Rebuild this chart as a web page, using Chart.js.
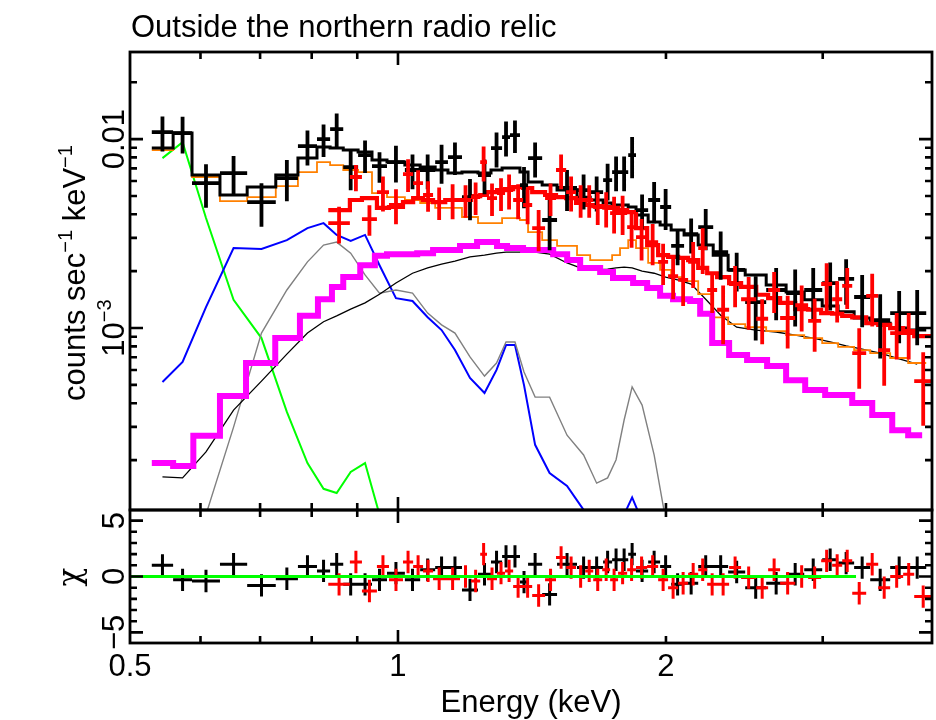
<!DOCTYPE html>
<html>
<head>
<meta charset="utf-8">
<title>Outside the northern radio relic</title>
<script src="https://cdn.jsdelivr.net/npm/chart.js@4.4.1/dist/chart.umd.min.js"></script>
<style>
  html, body { margin: 0; padding: 0; background: #fff; }
  #wrap { position: relative; width: 936px; height: 720px; }
  #wrap canvas { position: absolute; left: 0; top: 0; }
</style>
</head>
<body>
<div id="wrap">
  <canvas id="spec" width="936" height="720"></canvas>
  <canvas id="resid" width="936" height="720"></canvas>
</div>
<script>
// energy bins (keV) and count rates (counts/s/keV)

// black data set
const blackBinEdges = [0.529, 0.559, 0.587, 0.631, 0.677, 0.729, 0.772, 0.811, 0.839, 0.868,
  0.902, 0.935, 0.972, 1.018, 1.059, 1.101, 1.138, 1.180, 1.230, 1.272,
  1.309, 1.336, 1.371, 1.400, 1.452, 1.509, 1.589, 1.644, 1.700, 1.740,
  1.776, 1.814, 1.851, 1.910, 1.970, 2.027, 2.096, 2.174, 2.260, 2.349,
  2.455, 2.592, 2.729, 2.860, 2.996, 3.122, 3.254, 3.392, 3.572, 3.742, 3.921];
const blackRate = [0.01089, 0.01076, 0.00585, 0.00661, 0.00464, 0.00622, 0.00918, 0.0100, 0.01130, 0.00711,
  0.00823, 0.00720, 0.00756, 0.00686, 0.00686, 0.00756, 0.00803, 0.00493, 0.00645, 0.00896,
  0.01025, 0.0105, 0.00571, 0.00793, 0.00373, 0.00551, 0.00537, 0.00524, 0.00607, 0.00669,
  0.00669, 0.00823, 0.00421, 0.00476, 0.00437, 0.00272, 0.00314, 0.00342, 0.00252, 0.00203,
  0.00137, 0.00159, 0.00153, 0.00159, 0.00173, 0.00182, 0.00146, 0.00110, 0.00120, 0.00120];
const blackRateErr = [0.00229, 0.00238, 0.00152, 0.00154, 0.00120, 0.00153, 0.00193, 0.00196, 0.00237, 0.00175,
  0.00161, 0.00132, 0.00167, 0.00144, 0.00144, 0.00176, 0.00157, 0.00121, 0.00135, 0.00188,
  0.00215, 0.00206, 0.00140, 0.00167, 0.00115, 0.00135, 0.00113, 0.00110, 0.00134, 0.00140,
  0.00140, 0.00202, 0.00088, 0.00117, 0.00107, 0.00057, 0.00066, 0.00084, 0.00072, 0.00047,
  0.00051, 0.00049, 0.00051, 0.00049, 0.00049, 0.00049, 0.00045, 0.00041, 0.00037, 0.00039];
const blackModel = [0.00896, 0.01076, 0.00645, 0.00506, 0.00557, 0.00645, 0.00793, 0.00907, 0.00896, 0.00875,
  0.00854, 0.00774, 0.00756, 0.00729, 0.00711, 0.00686, 0.00661, 0.00669, 0.00661, 0.00686,
  0.00702, 0.00702, 0.00669, 0.00592, 0.00571, 0.00537, 0.00493, 0.00476, 0.00459, 0.00448,
  0.00448, 0.00437, 0.00396, 0.00364, 0.00351, 0.00330, 0.00311, 0.00275, 0.00243, 0.00203,
  0.00191, 0.00169, 0.00155, 0.00141, 0.00131, 0.00122, 0.00113, 0.00106, 0.00100, 0.000976];
const blackChi = [1.0, -0.3, -0.4, 1.1, -0.8, -0.2, 0.9, 0.5, 1.1, -0.7,
  -0.7, -0.3, 0.3, -0.3, 0.6, 0.8, 0.8, -1.2, 0.2, 1.3,
  1.8, 1.8, -0.5, 1.1, -1.6, 1.1, 0.8, 0.8, 1.3, 1.5,
  1.5, 2.0, 0.5, 1.3, 0.9, -0.7, -0.6, 0.9, 0.9, 0.4,
  -1.0, -0.6, 0.2, 0.6, 1.5, 1.2, 0.8, -0.3, 0.8, 0.8];

// model components on the black bins
const orangeComp = [0.00875, 0.01076, 0.00630, 0.00470, 0.00493, 0.00564, 0.00669, 0.00756, 0.00729, 0.00686,
  0.00669, 0.00518, 0.00493, 0.00476, 0.00459, 0.00432, 0.00432, 0.00387, 0.00359, 0.00359,
  0.00382, 0.00382, 0.00373, 0.00322, 0.00292, 0.00272, 0.00243, 0.00229, 0.00229, 0.00243,
  0.00265, 0.00292, 0.00265, 0.00221, 0.00203, 0.00186, 0.00177, 0.00151, 0.00114, 0.00105,
  0.00101, 0.000964, 0.000918, 0.000885, 0.000833, 0.000794, 0.000765, 0.000737, 0.000694, 0.000653];
const thinBlackComp = [0.000163, 0.000161, 0.000221, 0.000368, 0.000524, 0.000728, 0.000941, 0.00108, 0.00116, 0.00126,
  0.00136, 0.00151, 0.00173, 0.00195, 0.00208, 0.00218, 0.00226, 0.00238, 0.00243, 0.00249,
  0.00252, 0.00252, 0.00252, 0.00252, 0.00246, 0.00221, 0.00205, 0.00203, 0.00205, 0.00208,
  0.00210, 0.00208, 0.00200, 0.00195, 0.00186, 0.00180, 0.00171, 0.00142, 0.00117, 0.00101,
  0.000976, 0.000953, 0.000918, 0.000885, 0.000844, 0.000804, 0.000774, 0.000737, 0.000686, 0.000645];
const grayComp = [0.00003, 0.00006, 0.000103, 0.000299, 0.000941, 0.00159, 0.00224, 0.00275, 0.00285, 0.00249,
  0.00191, 0.00153, 0.00159, 0.00153, 0.00120, 0.00104, 0.000941, 0.000703, 0.000557, 0.000653,
  0.000844, 0.000844, 0.000585, 0.000431, 0.000431, 0.000271, 0.000213, 0.000151, 0.000161, 0.000201,
  0.000326, 0.000488, 0.000391, 0.000213, 0.000097, 0.000047];
const blueComp = [0.000518, 0.000661, 0.00129, 0.00265, 0.00262, 0.00292, 0.00338, 0.00359, 0.00311, 0.00289,
  0.00311, 0.00215, 0.00144, 0.00139, 0.00114, 0.000976, 0.000765, 0.000544, 0.000453, 0.000600,
  0.000813, 0.000813, 0.000499, 0.000241, 0.000171, 0.000146, 0.000109, 0.00009, 0.00008, 0.000095,
  0.000103, 0.000127, 0.000095, 0.00006];
const greenComp = [0.00793, 0.00964, 0.00382, 0.00141, 0.000885, 0.000360, 0.000193, 0.000141, 0.000134, 0.000173,
  0.000193, 0.000103, 0.00004];

// magenta component (own binning)
const magentaBinEdges = [0.529, 0.559, 0.589, 0.631, 0.675, 0.728, 0.776, 0.813, 0.843, 0.868,
  0.907, 0.942, 0.972, 1.051, 1.095, 1.174, 1.227, 1.292, 1.326, 1.382,
  1.494, 1.549, 1.602, 1.687, 1.744, 1.837, 1.905, 1.970, 2.037, 2.129,
  2.185, 2.254, 2.355, 2.467, 2.598, 2.729, 2.867, 3.019, 3.238, 3.410,
  3.591, 3.742, 3.880];
const magentaComp = [0.000193, 0.000186, 0.000269, 0.000437, 0.000653, 0.000885, 0.00116, 0.00142, 0.00165, 0.00186,
  0.00215, 0.00241, 0.00246, 0.00249, 0.00259, 0.00272, 0.00285, 0.00272, 0.00265, 0.00259,
  0.00246, 0.00229, 0.00208, 0.00198, 0.00184, 0.00173, 0.00163, 0.00148, 0.00142, 0.00139,
  0.00119, 0.000833, 0.000719, 0.000678, 0.000630, 0.000530, 0.000470, 0.000442, 0.000401, 0.000347,
  0.000288, 0.000271];

// red data set
const redBinEdges = [0.835, 0.883, 0.911, 0.947, 0.977, 1.013, 1.040, 1.067, 1.095, 1.130,
  1.174, 1.208, 1.237, 1.259, 1.292, 1.319, 1.347, 1.382, 1.415, 1.463,
  1.505, 1.545, 1.585, 1.623, 1.657, 1.696, 1.731, 1.767, 1.809, 1.851,
  1.905, 1.960, 2.011, 2.064, 2.118, 2.174, 2.225, 2.283, 2.355, 2.429,
  2.526, 2.605, 2.687, 2.794, 2.889, 2.988, 3.074, 3.155, 3.238, 3.357,
  3.463, 3.572, 3.694, 3.801, 3.982];
const redRate = [0.00359, 0.00630, 0.00377, 0.00524, 0.00448, 0.00653, 0.00585, 0.00506, 0.00464, 0.00476,
  0.00476, 0.00493, 0.00756, 0.00487, 0.00518, 0.00537, 0.00476, 0.00448, 0.00338, 0.00487,
  0.00686, 0.00524, 0.00476, 0.00476, 0.00437, 0.00432, 0.00406, 0.00406, 0.00342, 0.00303,
  0.00285, 0.00224, 0.00188, 0.00180, 0.00224, 0.00265, 0.00159, 0.00125, 0.00171, 0.00142,
  0.00112, 0.00159, 0.00113, 0.00132, 0.00109, 0.00171, 0.00142, 0.00167, 0.000737, 0.00148,
  0.000765, 0.000941, 0.000941, 0.000524];
const redRateErr = [0.00079, 0.00100, 0.00069, 0.00110, 0.00094, 0.00128, 0.00100, 0.00093, 0.00091, 0.00100,
  0.00093, 0.00097, 0.00159, 0.00095, 0.00102, 0.00113, 0.00100, 0.00094, 0.00083, 0.00095,
  0.00144, 0.00110, 0.00093, 0.00093, 0.00086, 0.00091, 0.00090, 0.00095, 0.00076, 0.00075,
  0.00070, 0.00055, 0.00046, 0.00049, 0.00061, 0.00072, 0.00039, 0.00043, 0.00042, 0.00044,
  0.00030, 0.00039, 0.00035, 0.00036, 0.00034, 0.00049, 0.00035, 0.00041, 0.00026, 0.00046,
  0.00027, 0.00026, 0.00026, 0.00022];
const redModel = [0.00421, 0.00476, 0.00487, 0.00432, 0.00437, 0.00464, 0.00487, 0.00476, 0.00464, 0.00476,
  0.00476, 0.00499, 0.00506, 0.00524, 0.00537, 0.00544, 0.00557, 0.00551, 0.00524, 0.00506,
  0.00493, 0.00487, 0.00459, 0.00448, 0.00442, 0.00437, 0.00432, 0.00421, 0.00411, 0.00338,
  0.00275, 0.00243, 0.00238, 0.00235, 0.00229, 0.00208, 0.00195, 0.00186, 0.00173, 0.00165,
  0.00150, 0.00144, 0.00136, 0.00126, 0.00125, 0.00120, 0.00119, 0.00116, 0.00114, 0.00106,
  0.00104, 0.00100, 0.000964, 0.000907];
const redChi = [-0.7, 1.3, -1.3, 0.9, -0.3, 1.3, 0.9, 0.5, -0.2, -0.2,
  0.0, -0.4, 2.0, -0.2, 0.3, 0.5, -0.9, -0.9, -1.7, -0.3,
  1.7, 0.8, 0.0, 0.5, -0.3, 0.6, -0.3, 0.3, 0.6, 0.8,
  0.9, -0.3, -1.0, -0.6, 0.2, 0.6, -0.7, -0.7, 0.8, -0.1,
  -1.0, 0.6, -0.6, 0.0, -0.1, 1.4, 1.0, 1.4, -1.5, 1.1,
  -1.0, 0.0, 0.2, -1.8];

// zero line in the residual panel
const zeroLineE = [0.5, 3.27];
const zeroLine = [0, 0];

// axes
const energyRange = [0.5, 3.98];
const rateRange = [1.089e-4, 0.0289];
const chiRange = [-5.95, 5.95];
const energyMajorTicks = [1];
const energyMinorTicks = [0.6, 0.7, 0.8, 0.9, 2, 3];
const energyTickLabels = [0.5, 1, 2];
const rateMajorTicks = [0.001, 0.01];
const rateMinorTicks = [0.0002, 0.0003, 0.0004, 0.0005, 0.0006, 0.0007, 0.0008, 0.0009,
  0.002, 0.003, 0.004, 0.005, 0.006, 0.007, 0.008, 0.009, 0.02];
const chiMajorTicks = [-5, 0, 5];
const chiMinorTicks = [-4, -3, -2, -1, 1, 2, 3, 4];
const chiTickLabels = [5, 0, -5];

const FONT = '"Liberation Sans", Arial, Helvetica, sans-serif';
const SIZE = 31;

function centres(edges) {
  return edges.slice(1).map((hi, i) => Math.sqrt(edges[i] * hi));
}
function steps(edges, vals) {
  const pts = vals.map((v, i) => ({ x: edges[i], y: v }));
  pts.push({ x: edges[vals.length], y: vals[vals.length - 1] });
  return pts;
}
function curve(edges, vals) {
  const c = centres(edges);
  return vals.map((v, i) => ({ x: c[i], y: v }));
}
function crosses(edges, vals, errs) {
  const c = centres(edges);
  return vals.map((v, i) => ({
    x: c[i], y: v, xMin: edges[i], xMax: edges[i + 1],
    yMin: v - (errs ? errs[i] : 1), yMax: v + (errs ? errs[i] : 1)
  }));
}

// draws text made of normal and superscript pieces, optionally turned to read upwards
function drawRich(ctx, segs, x, y, rotate, align) {
  const sup = Math.round(SIZE * 0.66);
  const fontOf = s => (s.sup ? sup : SIZE) + 'px ' + (s.font || FONT);
  ctx.save();
  ctx.translate(x, y);
  if (rotate) ctx.rotate(-Math.PI / 2);
  ctx.textAlign = 'left';
  ctx.textBaseline = 'alphabetic';
  let w = 0;
  segs.forEach(s => { ctx.font = fontOf(s); w += ctx.measureText(s.t).width; });
  let cx = align === 'center' ? -w / 2 : 0;
  segs.forEach(s => {
    ctx.font = fontOf(s);
    ctx.fillText(s.t, cx, s.sup ? -SIZE * 0.42 : 0);
    cx += ctx.measureText(s.t).width;
  });
  ctx.restore();
}

const panelFrame = {
  id: 'panelFrame',
  afterDatasetDraw(chart, args) {
    const ds = chart.data.datasets[args.index];
    if (!ds.errorBars) return;
    const { ctx, chartArea: a } = chart;
    const xs = chart.scales.x, ys = chart.scales.y;
    ctx.save();
    ctx.beginPath();
    ctx.rect(a.left, a.top, a.right - a.left, a.bottom - a.top);
    ctx.clip();
    ctx.strokeStyle = ds.borderColor;
    ctx.lineWidth = ds.errorBars;
    ctx.beginPath();
    ds.data.forEach(p => {
      const px = xs.getPixelForValue(p.x), py = ys.getPixelForValue(p.y);
      ctx.moveTo(xs.getPixelForValue(p.xMin), py);
      ctx.lineTo(xs.getPixelForValue(p.xMax), py);
      ctx.moveTo(px, ys.getPixelForValue(p.yMin));
      ctx.lineTo(px, ys.getPixelForValue(p.yMax));
    });
    ctx.stroke();
    ctx.restore();
  },
  afterDraw(chart, args, o) {
    const { ctx, chartArea: a } = chart;
    const xs = chart.scales.x, ys = chart.scales.y;
    const inX = v => v >= xs.min && v <= xs.max;
    const inY = v => v >= ys.min && v <= ys.max;
    ctx.save();
    ctx.strokeStyle = '#000';
    ctx.lineWidth = 2.6;
    ctx.beginPath();
    const tickX = (v, len) => {
      const p = xs.getPixelForValue(v);
      ctx.moveTo(p, a.bottom); ctx.lineTo(p, a.bottom - len);
      ctx.moveTo(p, a.top); ctx.lineTo(p, a.top + len);
    };
    const tickY = (v, len) => {
      const p = ys.getPixelForValue(v);
      ctx.moveTo(a.left, p); ctx.lineTo(a.left + len, p);
      ctx.moveTo(a.right, p); ctx.lineTo(a.right - len, p);
    };
    o.xMajor.filter(inX).forEach(v => tickX(v, 13));
    o.xMinor.filter(inX).forEach(v => tickX(v, 7));
    o.yMajor.filter(inY).forEach(v => tickY(v, 13));
    o.yMinor.filter(inY).forEach(v => tickY(v, 7));
    ctx.stroke();
    ctx.lineWidth = 2.8;
    ctx.strokeRect(a.left, a.top, a.right - a.left, a.bottom - a.top);

    ctx.fillStyle = '#000';
    (o.xLabels || []).forEach(l => drawRich(ctx, l.text, xs.getPixelForValue(l.v), o.xLabelY, false, 'center'));
    (o.yLabels || []).forEach(l => drawRich(ctx, l.text, o.yLabelX, ys.getPixelForValue(l.v), true, 'center'));
    if (o.title) drawRich(ctx, o.title, a.left + 1, o.titleY, false, 'left');
    if (o.xTitle) drawRich(ctx, o.xTitle, (a.left + a.right) / 2, o.xTitleY, false, 'center');
    if (o.yTitle) drawRich(ctx, o.yTitle, o.yTitleX, o.yTitleY, true, 'center');
    ctx.restore();
  }
};

function line(label, data, color, width, extra) {
  return Object.assign({ label, data, borderColor: color, borderWidth: width,
    pointRadius: 0, pointHoverRadius: 0, fill: false, tension: 0, clip: 0 }, extra || {});
}

const commonOptions = {
  responsive: false,
  animation: false,
  devicePixelRatio: 1,
  events: [],
  plugins: { legend: { display: false }, tooltip: { enabled: false }, title: { display: false } }
};

new Chart(document.getElementById('spec'), {
  type: 'line',
  data: {
    datasets: [
      line('red data', crosses(redBinEdges, redRate, redRateErr), '#ff0000', 0, { showLine: false, errorBars: 3.8 }),
      line('black data', crosses(blackBinEdges, blackRate, blackRateErr), '#000000', 0, { showLine: false, errorBars: 3.8 }),
      line('red model', steps(redBinEdges, redModel), '#ff0000', 4.2, { stepped: 'before' }),
      line('black model', steps(blackBinEdges, blackModel), '#000000', 3, { stepped: 'before' }),
      line('magenta component', steps(magentaBinEdges, magentaComp), '#ff00ff', 6, { stepped: 'before' }),
      line('orange component', steps(blackBinEdges, orangeComp), '#ff8000', 1.8, { stepped: 'before' }),
      line('thin black component', curve(blackBinEdges, thinBlackComp), '#000000', 1.3),
      line('gray component', curve(blackBinEdges, grayComp), '#808080', 1.4),
      line('blue component', curve(blackBinEdges, blueComp), '#0000ff', 2),
      line('green component', curve(blackBinEdges, greenComp), '#00ff00', 2)
    ]
  },
  options: Object.assign({}, commonOptions, {
    layout: { padding: { left: 130, right: 4, top: 52, bottom: 210 } },
    scales: {
      x: { type: 'logarithmic', min: energyRange[0], max: energyRange[1], display: false },
      y: { type: 'logarithmic', min: rateRange[0], max: rateRange[1], display: false }
    },
    plugins: Object.assign({}, commonOptions.plugins, {
      panelFrame: {
        xMajor: energyMajorTicks, xMinor: energyMinorTicks,
        yMajor: rateMajorTicks, yMinor: rateMinorTicks,
        yLabels: [
          { v: rateMajorTicks[1], text: [{ t: '0.01' }] },
          { v: rateMajorTicks[0], text: [{ t: '10' }, { t: '\u22123', sup: true }] }
        ],
        yLabelX: 124,
        title: [{ t: 'Outside the northern radio relic' }], titleY: 37,
        yTitle: [{ t: 'counts sec' }, { t: '\u22121', sup: true }, { t: ' keV' }, { t: '\u22121', sup: true }],
        yTitleX: 85, yTitleY: 273
      }
    })
  }),
  plugins: [panelFrame]
});

new Chart(document.getElementById('resid'), {
  type: 'line',
  data: {
    datasets: [
      line('zero', zeroLineE.map((e, i) => ({ x: e, y: zeroLine[i] })), '#00ff00', 3),
      line('red residuals', crosses(redBinEdges, redChi), '#ff0000', 0, { showLine: false, errorBars: 3 }),
      line('black residuals', crosses(blackBinEdges, blackChi), '#000000', 0, { showLine: false, errorBars: 3 })
    ]
  },
  options: Object.assign({}, commonOptions, {
    layout: { padding: { left: 130, right: 4, top: 510, bottom: 77 } },
    scales: {
      x: { type: 'logarithmic', min: energyRange[0], max: energyRange[1], display: false },
      y: { type: 'linear', min: chiRange[0], max: chiRange[1], display: false }
    },
    plugins: Object.assign({}, commonOptions.plugins, {
      panelFrame: {
        xMajor: energyMajorTicks, xMinor: energyMinorTicks,
        yMajor: chiMajorTicks, yMinor: chiMinorTicks,
        xLabels: energyTickLabels.map(v => ({ v, text: [{ t: String(v) }] })),
        xLabelY: 676,
        yLabels: chiTickLabels.map(v => ({ v, text: [{ t: v < 0 ? '\u2212' + Math.abs(v) : String(v) }] })),
        yLabelX: 124,
        xTitle: [{ t: 'Energy (keV)' }], xTitleY: 712,
        yTitle: [{ t: '\u03c7', font: '"DejaVu Serif", serif' }], yTitleX: 80, yTitleY: 577
      }
    })
  }),
  plugins: [panelFrame]
});
</script>
</body>
</html>
